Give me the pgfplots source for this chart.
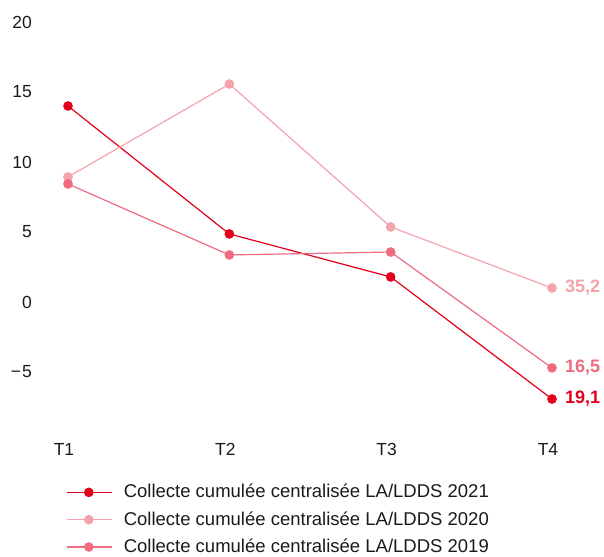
\documentclass[border=0pt]{standalone}
\usepackage{pgfplots}
\pgfplotsset{compat=1.18}
\usepackage{fontspec}
\setmainfont{Liberation Sans}
\definecolor{c21}{HTML}{E3001B}
\definecolor{c20}{HTML}{F4A3AD}
\definecolor{c19}{HTML}{EE6B80}
\definecolor{txt}{HTML}{1A1A1A}
\begin{document}
\fontsize{18}{21}\selectfont
\begin{tikzpicture}
\useasboundingbox (-68pt,-128pt) rectangle (536pt,428pt);
\begin{axis}[
  at={(0,0)}, anchor=south west,
  scale only axis,
  width=484pt, height=406pt,
  xmin=0, xmax=3, ymin=-9, ymax=20,
  axis line style={draw=none},
  tick style={draw=none},
  xtick={0,1,2,3},
  xticklabels={T1,T2,T3,T4},
  ytick={-5,0,5,10,15,20},
  yticklabels={−\kern1pt5,0,5,10,15,20},
  ticklabel style={font=\fontsize{17.5}{21}\selectfont, text=txt, inner sep=0pt},
  yticklabel style={anchor=east, xshift=-36pt},
  xticklabel style={anchor=center, yshift=-21pt, xshift=-4pt},
  clip=false,
  legend cell align=left,
  legend style={at={(0,0)}, anchor=north west, xshift=-2pt, yshift=-56pt,
    draw=none, fill=none, font=\fontsize{18.5}{20}\selectfont,
    row sep=11pt, inner sep=0pt,
    nodes={inner sep=0pt, anchor=west}},
  legend image code/.code={
    \draw[mark repeat=2, mark phase=2] plot coordinates {(0pt,0pt) (22pt,0pt) (45pt,0pt)};
    \path[draw=none, fill=none] (45pt,0pt) -- (57pt,0pt);
  },
]
\addplot[c21, line width=1.2pt, mark=*, mark size=4.2pt, mark options={solid, fill=c21, draw=none}]
  coordinates {(0,14.0) (1,4.86) (2,1.79) (3,-6.93)};
\addlegendentry{\textcolor{txt}{Collecte cumulée centralisée LA/LDDS 2021}}
\addplot[c20, line width=1.2pt, mark=*, mark size=4.2pt, mark options={solid, fill=c20, draw=none}]
  coordinates {(0,8.93) (1,15.57) (2,5.36) (3,1.0)};
\addlegendentry{\textcolor{txt}{Collecte cumulée centralisée LA/LDDS 2020}}
\addplot[c19, line width=1.2pt, mark=*, mark size=4.2pt, mark options={solid, fill=c19, draw=none}]
  coordinates {(0,8.43) (1,3.36) (2,3.57) (3,-4.71)};
\addlegendentry{\textcolor{txt}{Collecte cumulée centralisée LA/LDDS 2019}}
\node[anchor=west, inner sep=0pt, xshift=13pt, text=c20, font=\fontsize{18}{21}\selectfont\bfseries] at (axis cs:3,1.0) {35,2};
\node[anchor=west, inner sep=0pt, xshift=13pt, text=c19, font=\fontsize{18}{21}\selectfont\bfseries] at (axis cs:3,-4.71) {16,5};
\node[anchor=west, inner sep=0pt, xshift=13pt, text=c21, font=\fontsize{18}{21}\selectfont\bfseries] at (axis cs:3,-6.93) {19,1};
\end{axis}
\end{tikzpicture}
\end{document}
